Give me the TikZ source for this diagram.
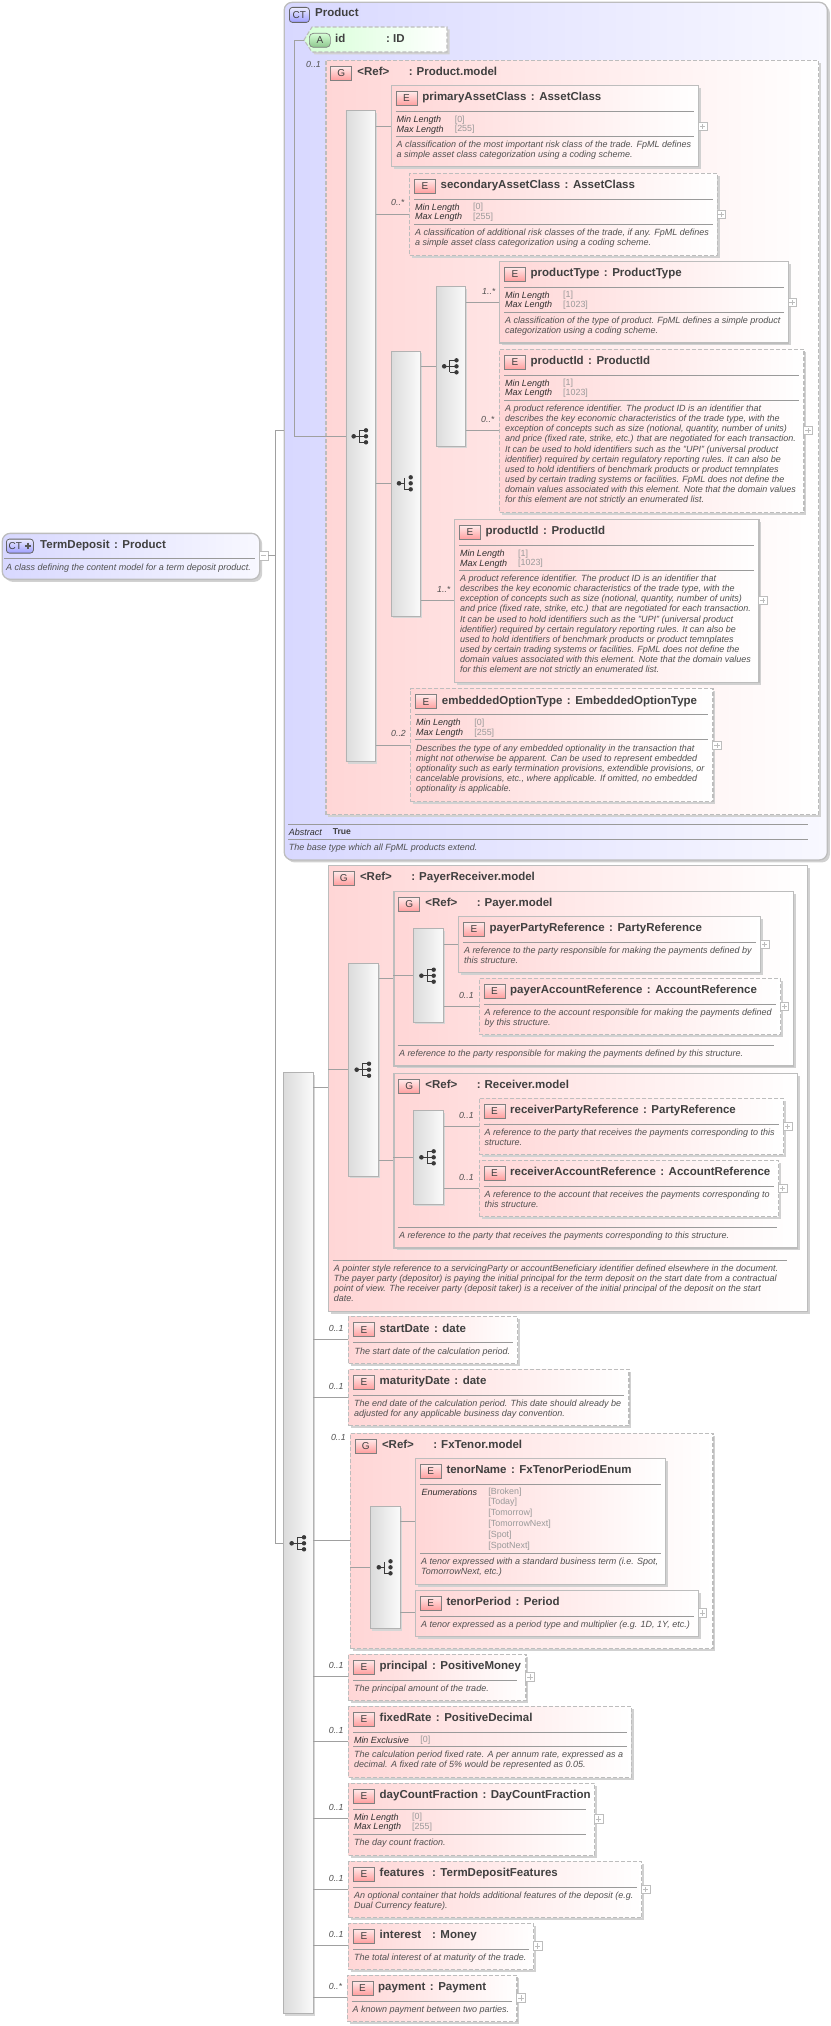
\documentclass[tikz,border=0pt]{standalone}
\usepackage{fontspec}
\setmainfont{Liberation Sans}
\usetikzlibrary{shadows}
\definecolor{bdc}{HTML}{BDBDBD}
\definecolor{pinkL}{HTML}{FFD6D6}
\definecolor{blueL}{HTML}{D8D8FF}
\definecolor{blueR}{HTML}{F8F8FF}
\definecolor{greenL}{HTML}{D6FFD6}
\definecolor{linec}{HTML}{A0A0A0}
\definecolor{sepc}{HTML}{9A9A9A}
\definecolor{namec}{HTML}{404040}
\definecolor{dscc}{HTML}{505050}
\definecolor{propc}{HTML}{303030}
\definecolor{valc}{HTML}{9A9A9A}
\definecolor{iconc}{HTML}{3A3A3A}
\newcount\tc
\tikzset{
  shad/.style={general shadow={shadow xshift=2.5pt,shadow yshift=-2.5pt,fill=black!18}},
  elsolid/.style={draw=bdc,line width=1.2pt,left color=pinkL,right color=white,shad,inner sep=0pt},
  eldash/.style={draw=bdc,line width=1.1pt,dash pattern=on 4pt off 2pt,left color=pinkL,right color=white,shad,inner sep=0pt},
  ctbox/.style={draw=bdc,line width=1.3pt,rounded corners=8pt,left color=blueL,right color=blueR,shad,inner sep=0pt},
  barbox/.style={draw=black!30,line width=.8pt,left color=black!14,right color=black!2,general shadow={shadow xshift=2pt,shadow yshift=-2pt,fill=black!16},inner sep=0pt},
  bdg/.style={draw=black!50,line width=.7pt,top color=pinkL!50,bottom color=red!38!white,minimum width=21pt,minimum height=14pt,inner sep=0pt,text=namec,font=\fontsize{10}{10}\selectfont},
  ctbdg/.style={draw=black!60,line width=.8pt,rounded corners=3pt,top color=blueL!50,bottom color=blue!38!white,inner sep=0pt,text=namec,font=\fontsize{10}{10}\selectfont},
  abdg/.style={draw=black!50,line width=.7pt,rounded corners=4pt,top color=greenL,bottom color=green!50!black!45,minimum width=21pt,minimum height=14pt,inner sep=0pt,text=namec,font=\fontsize{10}{10}\selectfont},
  nm/.style={anchor=base west,inner sep=0pt,text=namec,font=\fontsize{11.5}{12}\selectfont\bfseries},
  dsc/.style={anchor=north west,inner sep=0pt,align=left,text=dscc,font=\fontsize{9}{10.11}\selectfont\itshape},
  prp/.style={anchor=base west,inner sep=0pt,text=propc,font=\fontsize{9}{10}\selectfont\itshape},
  vals/.style={anchor=base west,inner sep=0pt,text=valc,font=\fontsize{8.9}{10}\selectfont},
  mult/.style={anchor=base west,inner sep=0pt,text=dscc,font=\fontsize{8.8}{10}\selectfont\itshape},
  plusbox/.style={anchor=west,draw=bdc,line width=.6pt,fill=white,minimum width=8.5pt,minimum height=8.5pt,inner sep=0pt,
     path picture={\draw[bdc,line width=.7pt] (path picture bounding box.center) ++(-2.6pt,0pt) -- ++(5.2pt,0pt) (path picture bounding box.center) ++(0pt,-2.6pt) -- ++(0pt,5.2pt);}},
  minusbox/.style={anchor=west,draw=bdc,line width=.6pt,fill=white,minimum width=8.5pt,minimum height=8.5pt,inner sep=0pt,
     path picture={\draw[bdc,line width=.7pt] (path picture bounding box.center) ++(-2.6pt,0pt) -- ++(5.2pt,0pt);}},
  conn/.style={draw=linec,line width=.7pt},
  sepl/.style={draw=sepc,line width=.8pt},
}
\def\sepin{4}
% id x1 T x2 B style name type
\newcommand\XEl[8]{%
  \node[#6,anchor=north west,minimum width={#4-#2},minimum height={#5-#3}] (#1) at (#2,#3) {};
  \node[bdg,anchor=north west] (#1b) at (#2+5,#3+6) {E};
  \node[nm] (#1n) at (#2+31.5,#3+15.7) {#7\hspace{1.3pt}\ :\ \hspace{1.3pt}#8};
  \draw[sepl] (#2+5,#3+26.3) -- (#4-\sepin,#3+26.3);
}
% id x1 T x2 B style name
\newcommand\XGr[7]{%
  \node[#6,anchor=north west,minimum width={#4-#2},minimum height={#5-#3}] (#1) at (#2,#3) {};
  \node[bdg,anchor=north west] (#1b) at (#2+5,#3+6) {G};
  \node[nm] (#1r) at (#2+31.8,#3+15.7) {<Ref>};
  \node[nm] (#1n) at (#2+83.2,#3+15.7) {:\ \hspace{.8pt}#7};
}
\newcommand\XBar[5]{%
  \node[barbox,anchor=north west,minimum width={#4-#2},minimum height={#5-#3}] (#1) at (#2,#3) {};
}
\newcommand\XD[3]{\global\advance\tc by 1 \node[dsc,name=t\the\tc] at (#1,#2-3.4) {#3};}
\newcommand\XM[3]{\global\advance\tc by 1 \node[mult,name=t\the\tc] at (#1,#2+3) {#3};}
\newcommand\XP[3]{\global\advance\tc by 1 \node[prp,name=t\the\tc] at (#1,#2+3) {#3};}
\newcommand\XV[3]{\global\advance\tc by 1 \node[vals,name=t\the\tc] at (#1,#2+3) {#3};}
% x1 T x2 min max
\newcommand\XMM[5]{%
  \XP{#1+5.8}{#2+34.3}{Min Length}\XV{#1+64}{#2+34}{[#4]}
  \XP{#1+5.8}{#2+44.2}{Max Length}\XV{#1+64}{#2+43.8}{[#5]}
  \draw[sepl] (#1+5,#2+51.3) -- (#3-4,#2+51.3);
}
\newcommand\XPlus[3]{\node[plusbox] (#1) at (#2,#3) {};}
\newcommand\XSeq[2]{%
  \draw[iconc,line width=1pt] (#1-6.3,#2) -- (#1+6,#2) (#1-.7,#2-6) -- (#1-.7,#2+6) (#1-.7,#2-6) -- (#1+6,#2-6) (#1-.7,#2+6) -- (#1+6,#2+6);
  \fill[iconc] (#1-6.3,#2) circle[radius=2.3] (#1+6,#2-6) circle[radius=2.2] (#1+6,#2) circle[radius=2.2] (#1+6,#2+6) circle[radius=2.2];
}
\newcommand\XCho[2]{%
  \draw[iconc,line width=1pt] (#1-6,#2) -- (#1-.3,#2) (#1-.3,#2-5.5) -- (#1-.3,#2+6) -- (#1+5.7,#2+6);
  \fill[iconc] (#1-6,#2) circle[radius=2.3] (#1+5.7,#2-6) circle[radius=2.2] (#1+5.7,#2) circle[radius=2.2] (#1+5.7,#2+6) circle[radius=2.2];
}
% from-node to-node y
\newcommand\XC[3]{\draw[conn] (#1.east |- 0,#3) -- (#2.west |- 0,#3);}
\begin{document}
\begin{tikzpicture}[x=1pt,y=-1pt]
\useasboundingbox (0,0) rectangle (830,2026);
% ---------- root
\node[ctbox,anchor=north west,minimum width=257.4pt,minimum height=46pt] (root) at (1.6,532.7) {};
\node[ctbdg,anchor=north west,minimum width=27pt,minimum height=14pt] (rootb) at (6,538.7) {\hspace*{-9pt}CT};
\draw[iconc!85,line width=2pt] (25,545.6) -- (31,545.6) (28,542.6) -- (28,548.6);
\node[nm] (rootn) at (40,548.3) {TermDeposit\hspace{1.3pt}\ :\ \hspace{1.3pt}Product};
\draw[sepl] (4,558.3) -- (255,558.3);
\XD{6}{566.7}{A class defining the content model for a term deposit product.}
\node[minusbox] (rootm) at (259,555.7) {};
% ---------- Product complex type
\node[ctbox,anchor=north west,minimum width=543.2pt,minimum height=857.6pt] (prod) at (283.5,1.7) {};
\node[ctbdg,anchor=north west,minimum width=20pt,minimum height=15pt] (prodb) at (289,7) {CT};
\node[nm] (prodn) at (315,17) {Product};
\coordinate (idtip) at (304,40);
\path[draw=bdc,line width=1.1pt,dash pattern=on 4pt off 2pt,left color=greenL,right color=white,shad] (idtip) -- (312,27) -- (447,27) -- (447,52) -- (312,52) -- cycle;
\node[abdg,anchor=north west] (idb) at (309,33) {A};
\node[nm] (idn) at (335,42.5) {id};
\node[nm] (idt) at (386,42.5) {:\ ID};
\XGr{pm}{325.4}{60}{818}{814}{eldash}{Product.model}
\XM{306}{64}{0..1}
\XBar{b1}{345.5}{110.3}{374.7}{761.3}
\XSeq{360}{436.3}
\XEl{pac}{390.6}{85}{698}{166}{elsolid}{primaryAssetClass}{AssetClass}
\XMM{390.6}{85}{698}{0}{255}
\XD{396.4}{144}{A classification of the most important risk class of the trade. FpML defines\\a simple asset class categorization using a coding scheme.}
\XPlus{pacp}{698}{126.3}
\XEl{sac}{409}{172.7}{716.5}{254.7}{eldash}{secondaryAssetClass}{AssetClass}
\XMM{409}{172.7}{716.5}{0}{255}
\XD{414.8}{231.7}{A classification of additional risk classes of the trade, if any. FpML defines\\a simple asset class categorization using a coding scheme.}
\XPlus{sacp}{716.5}{214.3}
\XM{391}{202.7}{0..*}
\XBar{b2}{390.6}{350.7}{419.7}{616}
\XCho{405}{483.3}
\XBar{b3}{435.6}{286.3}{465}{446}
\XSeq{450.5}{366.3}
\XEl{pty}{499}{260.7}{787.5}{342.3}{elsolid}{productType}{ProductType}
\XMM{499}{260.7}{787.5}{1}{1023}
\XD{504.8}{319.7}{A classification of the type of product. FpML defines a simple product\\categorization using a coding scheme.}
\XPlus{ptyp}{787.5}{302.3}
\XM{482}{291}{1..*}
\XEl{pid}{499}{348.7}{803.4}{512}{eldash}{productId}{ProductId}
\XMM{499}{348.7}{803.4}{1}{1023}
\XD{504.8}{408.3}{A product reference identifier. The product ID is an identifier that\\describes the key economic characteristics of the trade type, with the\\exception of concepts such as size (notional, quantity, number of units)\\and price (fixed rate, strike, etc.) that are negotiated for each transaction.\\It can be used to hold identifiers such as the "UPI" (universal product\\identifier) required by certain regulatory reporting rules. It can also be\\used to hold identifiers of benchmark products or product temnplates\\used by certain trading systems or facilities. FpML does not define the\\domain values associated with this element. Note that the domain values\\for this element are not strictly an enumerated list.}
\XPlus{pidp}{803.4}{430.3}
\XM{481}{419}{0..*}
\XEl{pie}{454}{519}{758.3}{681.7}{elsolid}{productId}{ProductId}
\XMM{454}{519}{758.3}{1}{1023}
\XD{459.8}{578.3}{A product reference identifier. The product ID is an identifier that\\describes the key economic characteristics of the trade type, with the\\exception of concepts such as size (notional, quantity, number of units)\\and price (fixed rate, strike, etc.) that are negotiated for each transaction.\\It can be used to hold identifiers such as the "UPI" (universal product\\identifier) required by certain regulatory reporting rules. It can also be\\used to hold identifiers of benchmark products or product temnplates\\used by certain trading systems or facilities. FpML does not define the\\domain values associated with this element. Note that the domain values\\for this element are not strictly an enumerated list.}
\XPlus{piep}{758.3}{600.3}
\XM{437}{589}{1..*}
\XEl{emb}{410.2}{688.3}{712.4}{801.3}{eldash}{embeddedOptionType}{EmbeddedOptionType}
\XMM{410.2}{688.3}{712.4}{0}{255}
\XD{416}{748}{Describes the type of any embedded optionality in the transaction that\\might not otherwise be apparent. Can be used to represent embedded\\optionality such as early termination provisions, extendible provisions, or\\cancelable provisions, etc., where applicable. If omitted, no embedded\\optionality is applicable.}
\XPlus{embp}{712.4}{745.3}
\XM{391}{733.7}{0..2}
\draw[sepl] (288,824.3) -- (807.5,824.3);
\XP{288.6}{832.3}{Abstract}
\global\advance\tc by 1 \node[anchor=base west,inner sep=0pt,text=namec,font=\fontsize{8.6}{10}\selectfont\bfseries,name=t\the\tc] at (332.6,834.3) {True};
\draw[sepl] (288,839.3) -- (807.5,839.3);
\XD{288.6}{847}{The base type which all FpML products extend.}
% ---------- main sequence bar
\XBar{b0}{283}{1072.3}{312.6}{2013.3}
\XSeq{298}{1543.3}
% ---------- PayerReceiver
\XGr{pr}{328}{864.7}{806.5}{1310.7}{elsolid}{PayerReceiver.model}
\XBar{bpr}{348}{962.7}{377.7}{1176}
\XSeq{363}{1069.7}
\XGr{pay}{393.4}{891}{793}{1065.3}{elsolid}{Payer.model}
\XBar{bpay}{413}{928.3}{442.7}{1021.7}
\XSeq{427.7}{975.7}
\XEl{ppr}{458}{916}{760}{972}{elsolid}{payerPartyReference}{PartyReference}
\XD{463.8}{950.3}{A reference to the party responsible for making the payments defined by\\this structure.}
\XPlus{pprp}{760}{944.3}
\XEl{par}{478.5}{977.7}{779.7}{1034}{eldash}{payerAccountReference}{AccountReference}
\XD{484.3}{1012.3}{A reference to the account responsible for making the payments defined\\by this structure.}
\XPlus{parp}{779.7}{1006.3}
\XM{458.8}{995}{0..1}
\draw[sepl] (397.7,1045.3) -- (773.6,1045.3);
\XD{398.8}{1053.3}{A reference to the party responsible for making the payments defined by this structure.}
\XGr{rec}{393.4}{1073}{796.5}{1247.3}{elsolid}{Receiver.model}
\XBar{brec}{413}{1110.3}{442.7}{1203.7}
\XSeq{427.7}{1157.3}
\XEl{rpr}{478.5}{1097.7}{783}{1154}{eldash}{receiverPartyReference}{PartyReference}
\XD{484.3}{1132.3}{A reference to the party that receives the payments corresponding to this\\structure.}
\XPlus{rprp}{783}{1126.3}
\XM{458.8}{1115}{0..1}
\XEl{rar}{478.5}{1159.7}{778}{1216}{eldash}{receiverAccountReference}{AccountReference}
\XD{484.3}{1194.3}{A reference to the account that receives the payments corresponding to\\this structure.}
\XPlus{rarp}{778}{1188.3}
\XM{458.8}{1177}{0..1}
\draw[sepl] (397.7,1227.3) -- (776.8,1227.3);
\XD{398.8}{1235.3}{A reference to the party that receives the payments corresponding to this structure.}
\draw[sepl] (332.6,1260.3) -- (786.8,1260.3);
\XD{333.7}{1268.3}{A pointer style reference to a servicingParty or accountBeneficiary identifier defined elsewhere in the document.\\The payer party (depositor) is paying the initial principal for the term deposit on the start date from a contractual\\point of view. The receiver party (deposit taker) is a receiver of the initial principal of the deposit on the start\\date.}
% ---------- simple elements
\XEl{sd}{348}{1316.3}{516.8}{1362.7}{eldash}{startDate}{date}
\XD{354.4}{1351}{The start date of the calculation period.}
\XM{328.7}{1328.7}{0..1}
\XEl{md}{348}{1368.7}{628.4}{1425.3}{eldash}{maturityDate}{date}
\XD{354}{1403.3}{The end date of the calculation period. This date should already be\\adjusted for any applicable business day convention.}
\XM{328.7}{1386}{0..1}
% ---------- FxTenor
\XGr{fx}{350}{1432.7}{712.4}{1648}{eldash}{FxTenor.model}
\XM{330.8}{1437}{0..1}
\XBar{bfx}{369.8}{1505.7}{399.5}{1628.3}
\XCho{384.8}{1567.3}
\XEl{tn}{414.8}{1458}{665.2}{1584}{elsolid}{tenorName}{FxTenorPeriodEnum}
\XP{421.3}{1492}{Enumerations}
\XV{488.2}{1491.3}{[Broken]}
\XV{488.2}{1501.7}{[Today]}
\XV{488.2}{1512.7}{[Tomorrow]}
\XV{488.2}{1523.7}{[TomorrowNext]}
\XV{488.2}{1534.7}{[Spot]}
\XV{488.2}{1545.7}{[SpotNext]}
\draw[sepl] (419.8,1553.3) -- (661,1553.3);
\XD{421}{1561.3}{A tenor expressed with a standard business term (i.e. Spot,\\TomorrowNext, etc.)}
\XEl{tp}{414.8}{1589.7}{697.8}{1635.7}{elsolid}{tenorPeriod}{Period}
\XD{421}{1624.3}{A tenor expressed as a period type and multiplier (e.g. 1D, 1Y, etc.)}
\XPlus{tpp}{697.8}{1613}
\def\sepin{8}
\XEl{pri}{348}{1653.7}{525.4}{1700}{eldash}{principal}{PositiveMoney}
\def\sepin{4}
\XD{354}{1688.3}{The principal amount of the trade.}
\XPlus{prip}{525.4}{1677}
\XM{328.7}{1665.7}{0..1}
\XEl{fr}{348}{1705.7}{630.5}{1777}{eldash}{fixedRate}{PositiveDecimal}
\XP{353.8}{1740}{Min Exclusive}\XV{420.2}{1739.5}{[0]}
\draw[sepl] (353,1746.3) -- (626.5,1746.3);
\XD{354}{1754.3}{The calculation period fixed rate. A per annum rate, expressed as a\\decimal. A fixed rate of 5\% would be represented as 0.05.}
\XM{328.7}{1730.3}{0..1}
\def\sepin{8}
\XEl{dc}{348}{1782.7}{594}{1854.7}{eldash}{dayCountFraction}{DayCountFraction}
\def\sepin{4}
\XMM{348}{1782.7}{590}{0}{255}
\XD{354}{1842.3}{The day count fraction.}
\XPlus{dcp}{594}{1819}
\XM{328.7}{1807.7}{0..1}
\XEl{fe}{348}{1860.7}{641}{1917}{eldash}{features\ }{TermDepositFeatures}
\XD{354}{1895.3}{An optional container that holds additional features of the deposit (e.g.\\Dual Currency feature).}
\XPlus{fep}{641}{1889.3}
\XM{328.7}{1878}{0..1}
\XEl{in}{348}{1922.7}{533.2}{1969}{eldash}{interest\ \ }{Money}
\XD{354}{1957}{The total interest of at maturity of the trade.}
\XPlus{inp}{533.2}{1946}
\XM{328.7}{1934.7}{0..1}
\XEl{pa}{346.5}{1974.7}{516.4}{2020.7}{eldash}{payment}{Payment}
\XD{352.3}{2009.3}{A known payment between two parties.}
\XPlus{pap}{516.4}{1998}
\XM{328.7}{1986.7}{0..*}
% ---------- connectors
\coordinate (trunkA) at (275.5,430.3);
\coordinate (trunkB) at (275.5,1543.3);
\draw[conn] (prod.west |- trunkA) -- (trunkA) -- (trunkB) -- (b0.west |- trunkB);
\draw[conn] (rootm.east) -- (rootm.east -| trunkA);
\coordinate (inA) at (294,40);
\coordinate (inB) at (294,436.3);
\draw[conn] (idtip) -- (inA) -- (inB) -- (b1.west |- inB);
\XC{b1}{pac}{126.3}
\XC{b1}{sac}{214.3}
\XC{b1}{b2}{483.3}
\XC{b1}{emb}{745.3}
\XC{b2}{b3}{366.3}
\XC{b2}{pie}{600.3}
\XC{b3}{pty}{302.3}
\XC{b3}{pid}{430.3}
\XC{b0}{pr}{1087.3}
\XC{b0}{sd}{1339.3}
\XC{b0}{md}{1397.3}
\XC{b0}{fx}{1540.3}
\XC{b0}{pri}{1676.3}
\XC{b0}{fr}{1741.3}
\XC{b0}{dc}{1818.3}
\XC{b0}{fe}{1889.3}
\XC{b0}{in}{1945.3}
\XC{b0}{pa}{1997.3}
\draw[conn] (pr.west |- 0,1069.7) -- (bpr.west |- 0,1069.7);
\XC{bpr}{pay}{978.3}
\XC{bpr}{rec}{1160.3}
\draw[conn] (pay.west |- 0,975.7) -- (bpay.west |- 0,975.7);
\draw[conn] (rec.west |- 0,1157.3) -- (brec.west |- 0,1157.3);
\XC{bpay}{ppr}{944.3}
\XC{bpay}{par}{1006.3}
\XC{brec}{rpr}{1126.3}
\XC{brec}{rar}{1188.3}
\draw[conn] (fx.west |- 0,1567.3) -- (bfx.west |- 0,1567.3);
\XC{bfx}{tn}{1521.3}
\XC{bfx}{tp}{1612.7}
\end{tikzpicture}
\end{document}
